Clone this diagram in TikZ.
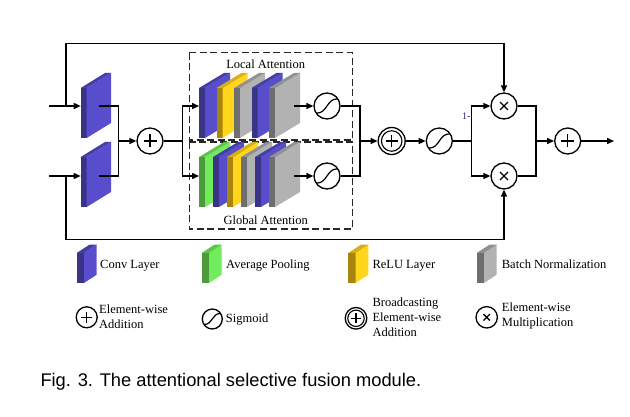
\documentclass[tikz,border=0pt]{standalone}
\usepackage{fontspec}
\setmainfont{Liberation Serif}
\newfontfamily\capfont{Liberation Sans}
\usetikzlibrary{arrows.meta,calc}

\definecolor{cvf}{RGB}{58,52,135}
\definecolor{cvs}{RGB}{88,78,205}
\definecolor{cvt}{RGB}{70,62,165}
\definecolor{ylf}{RGB}{168,134,14}
\definecolor{yls}{RGB}{255,214,28}
\definecolor{ylt}{RGB}{215,175,20}
\definecolor{bnf}{RGB}{110,110,110}
\definecolor{bns}{RGB}{178,178,178}
\definecolor{bnt}{RGB}{145,145,145}
\definecolor{gnf}{RGB}{76,154,60}
\definecolor{gns}{RGB}{112,236,92}
\definecolor{gnt}{RGB}{95,196,77}
\definecolor{onecol}{RGB}{40,40,140}

% #1 x, #2 y bottom, #3 front width, #4 height, #5 depth dx, #6 rise, #7 colour prefix
\newcommand{\drawslab}[7]{%
  \fill[#7f] (#1,#2) rectangle ++(#3,-#4);
  \fill[#7s] ({#1+#3},#2) -- ++(#5,-#6) -- ++(0,-#4) -- ++(-#5,#6) -- cycle;
  \fill[#7t] (#1,{#2-#4}) -- ++(#3,0) -- ++(#5,-#6) -- ++(-#3,0) -- cycle;
}

\tikzset{
  conn/.style={line width=1.5pt},
  arr/.style={line width=1.5pt, -{Triangle[length=7pt,width=6pt]}},
  circ/.style={circle, draw, line width=1.3pt, minimum size={2*#1pt}, inner sep=0pt, fill=white},
  plusc/.style={circ=#1, path picture={
     \draw[line width=1.3pt]
       ($(path picture bounding box.center)!0.5!(path picture bounding box.west)$) --
       ($(path picture bounding box.center)!0.5!(path picture bounding box.east)$)
       ($(path picture bounding box.center)!0.5!(path picture bounding box.north)$) --
       ($(path picture bounding box.center)!0.5!(path picture bounding box.south)$);}},
  bplusc/.style={circ=#1, path picture={
     \draw[line width=1.1pt] (path picture bounding box.center) circle[radius={0.76*#1pt}];
     \draw[line width=1.3pt]
       ($(path picture bounding box.center)!0.45!(path picture bounding box.west)$) --
       ($(path picture bounding box.center)!0.45!(path picture bounding box.east)$)
       ($(path picture bounding box.center)!0.45!(path picture bounding box.north)$) --
       ($(path picture bounding box.center)!0.45!(path picture bounding box.south)$);}},
  multc/.style={circ=#1, path picture={
     \draw[line width=1.3pt]
       ($(path picture bounding box.center)!0.3!(path picture bounding box.north west)$) --
       ($(path picture bounding box.center)!0.3!(path picture bounding box.south east)$)
       ($(path picture bounding box.center)!0.3!(path picture bounding box.north east)$) --
       ($(path picture bounding box.center)!0.3!(path picture bounding box.south west)$);}},
  sigc/.style={circ=#1, path picture={
     \draw[line width=1.2pt] (path picture bounding box.center) ++({-0.8*#1},{0.55*#1})
       .. controls +({0.85*#1},0) and +({-0.85*#1},0) .. ++({1.6*#1},{-1.1*#1});}},
  dbox/.style={line width=1.1pt, draw=black!85, dash pattern=on 7pt off 3.5pt},
  txt/.style={inner sep=0pt, font=\fontsize{12.5}{15}\selectfont},
}

\begin{document}
\begin{tikzpicture}[x=1pt,y=-1pt]
\fill[white] (0,0) rectangle (630,417);
\useasboundingbox (0,0) rectangle (630,417);

% dashed attention boxes
\draw[dbox] (189.3,52.7) rectangle (352.3,140);
\draw[dbox] (189.3,142) rectangle (352.3,229);

% input conv layers
\drawslab{80.7}{138}{6}{50}{24.3}{15}{cv}
\drawslab{80.7}{207}{6}{50}{24.3}{15}{cv}

% local attention stack
\drawslab{199}{138}{6}{50}{25}{15}{cv}
\drawslab{216.5}{138}{6}{50}{25}{15}{yl}
\drawslab{234}{138}{6}{50}{25}{15}{bn}
\drawslab{251.5}{138}{6}{50}{25}{15}{cv}
\drawslab{269}{138}{6}{50}{25}{15}{bn}

% global attention stack
\drawslab{199}{207}{6}{50}{25}{15}{gn}
\drawslab{213}{207}{6}{50}{25}{15}{cv}
\drawslab{227}{207}{6}{50}{25}{15}{yl}
\drawslab{241}{207}{6}{50}{25}{15}{bn}
\drawslab{255}{207}{6}{50}{25}{15}{cv}
\drawslab{269}{207}{6}{50}{25}{15}{bn}

% operator nodes
\node[plusc=13] (plus1) at (150,141) {};
\node[sigc=13] (sig1) at (327,106) {};
\node[sigc=13] (sig2) at (327,176) {};
\node[bplusc=13.5] (bplus) at (391.7,141) {};
\node[sigc=13] (sig3) at (439.3,141) {};
\node[multc=13] (mult1) at (504,106) {};
\node[multc=13] (mult2) at (504,176) {};
\node[plusc=13] (plus2) at (567.7,141) {};

% connector points
\coordinate (in1) at (49,106);
\coordinate (in2) at (49,176);
\coordinate (tap1) at (66,106);
\coordinate (tap2) at (66,176);
\coordinate (tl) at (66,43.3);
\coordinate (bl) at (66,239.3);
\coordinate (cAin) at (80.7,106);
\coordinate (cBin) at (80.7,176);
\coordinate (cAout) at (99.3,106);
\coordinate (cBout) at (99.3,176);
\coordinate (j1) at (118.3,141);
\coordinate (s1) at (182.7,141);
\coordinate (LAin) at (199,106);
\coordinate (GAin) at (199,176);
\coordinate (LAout) at (294,106);
\coordinate (GAout) at (294,176);
\coordinate (j2) at (360,141);
\coordinate (s2) at (471.7,141);
\coordinate (j3) at (536,141);
\coordinate (outp) at (614,141);

% connectors
\draw[arr] (in1) -- (cAin);
\draw[arr] (in2) -- (cBin);
\draw[arr] (tap1) -- (tl) -| (mult1.north);
\draw[arr] (tap2) -- (bl) -| (mult2.south);
\draw[conn] (cAout) -| (j1);
\draw[conn] (cBout) -| (j1);
\draw[arr] (j1) -- (plus1);
\draw[conn] (plus1) -- (s1);
\draw[arr] (s1) |- (LAin);
\draw[arr] (s1) |- (GAin);
\draw[arr] (LAout) -- (sig1);
\draw[arr] (GAout) -- (sig2);
\draw[conn] (sig1) -| (j2);
\draw[conn] (sig2) -| (j2);
\draw[arr] (j2) -- (bplus);
\draw[arr] (bplus) -- (sig3);
\draw[conn] (sig3) -- (s2);
\draw[arr] (s2) |- (mult1);
\draw[arr] (s2) |- (mult2);
\draw[conn] (mult1) -| (j3);
\draw[conn] (mult2) -| (j3);
\draw[arr] (j3) -- (plus2);
\draw[arr] (plus2) -- (outp);

% labels
\node[txt, anchor=base] (lloc) at (265.7,68.3) {Local Attention};
\node[txt, anchor=base] (lglob) at (265.7,224.3) {Global Attention};
\node[inner sep=0pt, font=\fontsize{10}{10}\selectfont, text=onecol, anchor=base] (onem) at (466.2,120) {1-};

% legend icons
\drawslab{76.7}{283}{7.3}{30}{12.7}{8.3}{cv}
\drawslab{201.7}{283}{7.3}{30}{12.7}{8.3}{gn}
\drawslab{348.3}{283}{7.3}{30}{12.7}{8.3}{yl}
\drawslab{476.7}{283}{7.3}{30}{12.7}{8.3}{bn}

\node[txt, anchor=base west] (tconv) at (100,269) {Conv Layer};
\node[txt, anchor=base west] (tavg) at (226,269) {Average Pooling};
\node[txt, anchor=base west] (trelu) at (372.3,269) {ReLU Layer};
\node[txt, anchor=base west] (tbn) at (501.7,269) {Batch Normalization};

\node[plusc=10.5] (lgplus) at (86.7,317.3) {};
\node[sigc=10] (lgsig) at (212.3,319) {};
\node[bplusc=10.8] (lgbplus) at (356,318.3) {};
\node[multc=10.7] (lgmult) at (486.7,317.3) {};

\node[txt, anchor=west, align=left] (tadd) at (99,316.3) {Element-wise\\Addition};
\node[txt, anchor=base west] (tsig) at (225.7,322.7) {Sigmoid};
\node[txt, anchor=west, align=left, font=\fontsize{12.5}{14.7}\selectfont] (tbadd) at (372.3,317.1) {Broadcasting\\Element-wise\\Addition};
\node[txt, anchor=west, align=left] (tmul) at (501.7,315.6) {Element-wise\\Multiplication};

% caption
\node[inner sep=0pt, anchor=base west, font=\capfont\fontsize{18.3}{22}\selectfont] (cap) at (40.3,386.7) {Fig. 3. The attentional selective fusion module.};
\end{tikzpicture}
\end{document}
